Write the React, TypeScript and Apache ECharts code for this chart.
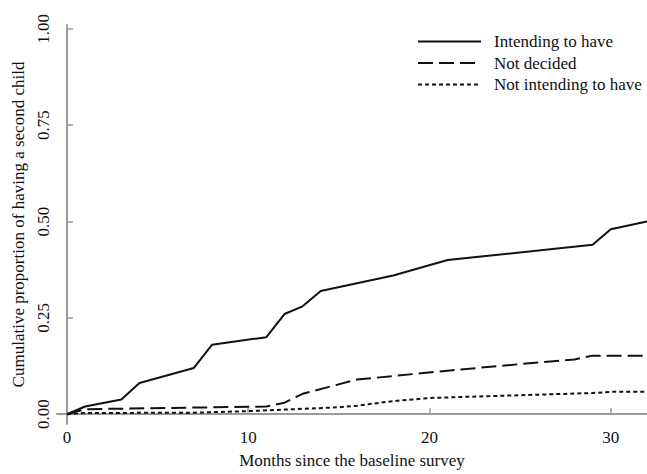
import React, { useEffect, useRef } from "react";
import * as echarts from "echarts";

const intendingData: [number, number][] = [
  [0, 0], [1, 0.02], [3, 0.038], [4, 0.081], [7, 0.12], [8, 0.18], [11, 0.2],
  [12, 0.26], [13, 0.28], [14, 0.32], [18, 0.36], [21, 0.4], [29, 0.44],
  [30, 0.48], [32, 0.5],
];
const notDecidedData: [number, number][] = [
  [0, 0], [1, 0.013], [11, 0.02], [12, 0.03], [13, 0.053], [16, 0.09],
  [18, 0.099], [21, 0.113], [25, 0.13], [28, 0.142], [29, 0.152], [32, 0.152],
];
const notIntendingData: [number, number][] = [
  [0, 0], [1, 0.003], [7, 0.004], [10, 0.008], [12, 0.012], [15, 0.018],
  [16, 0.022], [18, 0.034], [20, 0.042], [22, 0.045], [29, 0.055], [30, 0.058],
  [32, 0.058],
];
const xTicks = [0, 10, 20, 30];
const yTicks = [0, 0.25, 0.5, 0.75, 1];
const seriesNames = ["Intending to have", "Not decided", "Not intending to have"];

const FONT = "Liberation Serif";
const FS = 17;

export default function App() {
  const ref = useRef<HTMLDivElement>(null);
  useEffect(() => {
    if (!ref.current) return;
    const chart = echarts.init(ref.current, null, { renderer: "svg" });
    const axisLine = { show: true, lineStyle: { color: "#9a9a9a", width: 2 } };
    const axisTick = { show: true, inside: true, length: 6, lineStyle: { color: "#9a9a9a", width: 1.5 } };
    const mkSeries = (name: string, data: [number, number][], type: any) => ({
      name,
      type: "line",
      data,
      symbol: "none",
      showSymbol: false,
      lineStyle: { color: "#111", width: 2, type },
      itemStyle: { color: "#111" },
    });
    chart.setOption({
      animation: false,
      backgroundColor: "#fff",
      textStyle: { fontFamily: FONT },
      grid: { left: 57, right: 0, top: 25, bottom: 41 },
      legend: {
        orient: "vertical",
        left: 417,
        top: 33,
        padding: 0,
        itemWidth: 63,
        itemHeight: 14,
        itemGap: 4.5,
        itemStyle: { opacity: 0 },
        textStyle: { fontFamily: FONT, fontSize: FS, lineHeight: 17, color: "#111", padding: [0, 0, 0, 8] },
        data: seriesNames,
      },
      xAxis: {
        type: "value",
        min: -0.55,
        max: 32,
        name: "Months since the baseline survey",
        nameLocation: "middle",
        nameGap: 28,
        nameTextStyle: { fontFamily: FONT, fontSize: FS, color: "#111" },
        axisLine,
        axisTick: { ...axisTick, customValues: xTicks },
        axisLabel: { customValues: xTicks, fontFamily: FONT, fontSize: FS, color: "#111", margin: 5 },
        splitLine: { show: false },
      },
      yAxis: {
        type: "value",
        min: -0.0254,
        max: 1.01,
        name: "Cumulative proportion of having a second child",
        nameLocation: "middle",
        nameGap: 21,
        nameTextStyle: { fontFamily: FONT, fontSize: FS, color: "#111" },
        axisLine,
        axisTick: { ...axisTick, customValues: yTicks },
        axisLabel: {
          customValues: yTicks,
          rotate: 90,
          fontFamily: FONT,
          fontSize: FS,
          color: "#111",
          margin: 5,
          formatter: (v: number) => v.toFixed(2),
        },
        splitLine: { show: false },
      },
      series: [
        mkSeries(seriesNames[0], intendingData, "solid"),
        mkSeries(seriesNames[1], notDecidedData, [15, 6]),
        mkSeries(seriesNames[2], notIntendingData, [4, 3]),
      ],
    });
    return () => chart.dispose();
  }, []);
  return <div ref={ref} style={{ position: "fixed", left: 0, top: 0, width: 647, height: 474 }} />;
}
